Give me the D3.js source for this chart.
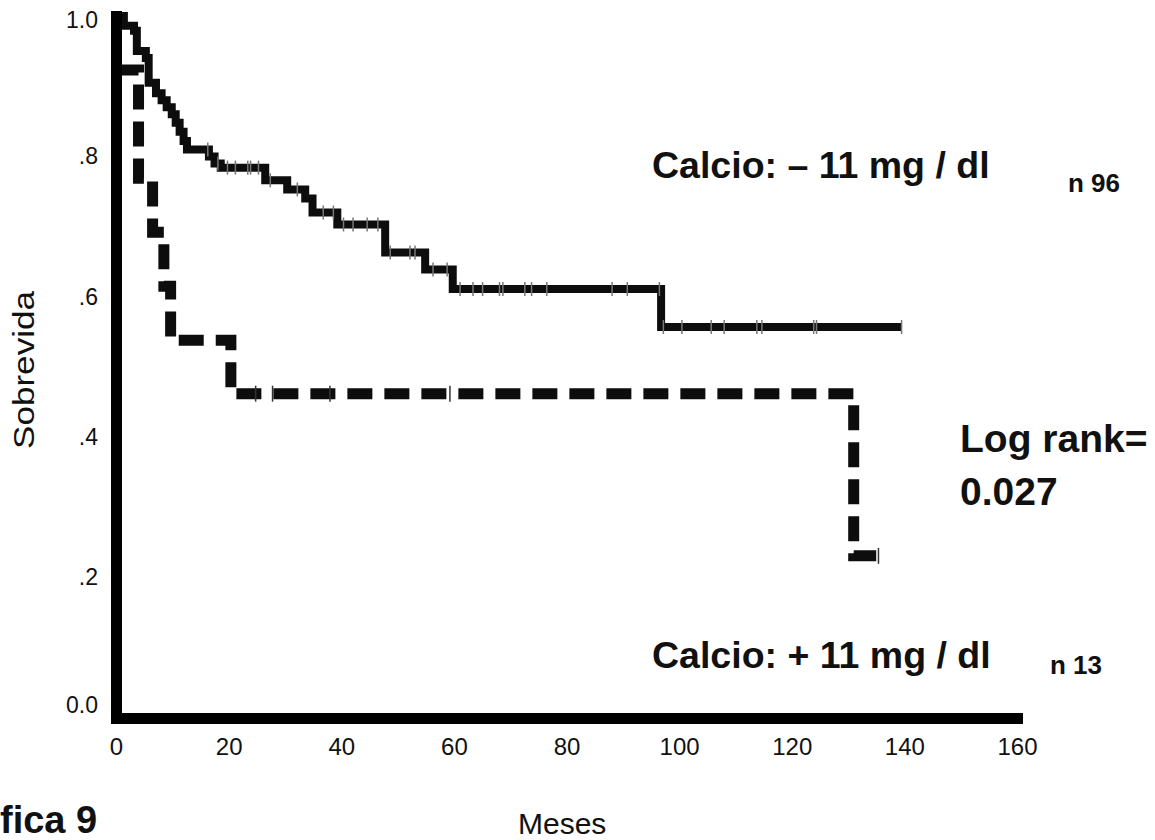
<!DOCTYPE html>
<html>
<head>
<meta charset="utf-8">
<script src="https://cdn.jsdelivr.net/npm/d3@7"></script>
<style>
    body { margin: 0; background: #fff; }
    svg { display: block; font-family: "Liberation Sans", Arial, sans-serif; }
</style>
</head>
<body>
<svg id="chart"></svg>
<script>
// Kaplan-Meier, calcio < 11 mg/dl (n 96)
let solidTimes = [0, 1.4, 3.2, 3.7, 5.3, 5.8, 7.1, 8.1, 9.0, 9.9, 10.6, 11.3, 12.0, 12.6, 16.5, 17.5, 18.6, 26.5, 30.4, 33.6, 34.9, 39.3, 47.8, 54.9, 59.8, 96.8, 139.5];
let solidSurv = [1.0, 0.986, 0.979, 0.95, 0.94, 0.905, 0.89, 0.88, 0.87, 0.86, 0.848, 0.835, 0.822, 0.81, 0.80, 0.79, 0.784, 0.766, 0.753, 0.74, 0.72, 0.703, 0.663, 0.639, 0.611, 0.557, 0.557];
let solidCensored = [16.3, 18.1, 19.8, 21.2, 23.4, 23.9, 25.3, 27.4, 32.2, 36.8, 38.6, 40.4, 42.1, 44.6, 46.5, 48.7, 52.2, 53.1, 56.3, 58.8, 61.1, 63.4, 65.1, 68.1, 68.7, 72.6, 73.8, 76.5, 88.1, 90.8, 96.5, 97.2, 100.5, 105.7, 108, 113.8, 114.7, 123.9, 124.4, 139.5];

// calcio > 11 mg/dl (n 13)
let dashTimes = [0, 4.0, 6.5, 8.5, 9.7, 20.4, 131, 135.4];
let dashSurv = [0.923, 0.769, 0.692, 0.615, 0.538, 0.462, 0.231, 0.231];
let dashCensored = [24.8, 27.8, 38.0, 59.3, 135.4];

let xTicks = [0, 20, 40, 60, 80, 100, 120, 140, 160];
let yTicks = [0, 0.2, 0.4, 0.6, 0.8, 1.0];
let yTickLabels = ["0.0", ".2", ".4", ".6", ".8", "1.0"];

let width = 1155,
    height = 840;

let x = d3.scaleLinear().domain([0, 160]).range([116, 1017]);
let y = d3.scaleLinear().domain([0, 1]).range([718, 16]);

let svg = d3.select('#chart')
    .attr('width', width)
    .attr('height', height);

svg.append('rect')
    .attr('width', width)
    .attr('height', height)
    .attr('fill', '#fff');

function toPoints(ts, ss) {
    return ts.map((t, i) => [t, ss[i]]);
}

// value of a step curve at time t
function survAt(ts, ss, t) {
    let v = ss[0];
    for (let i = 0; i < ts.length; i++) {
        if (ts[i] <= t) v = ss[i];
    }
    return v;
}

let line = d3.line()
    .curve(d3.curveStepAfter)
    .x(d => x(d[0]))
    .y(d => y(d[1]));

// solid curve
svg.append('path')
    .datum(toPoints(solidTimes, solidSurv))
    .attr('d', line)
    .attr('fill', 'none')
    .attr('stroke', '#0d0d0d')
    .attr('stroke-width', 8);

svg.append('g').selectAll('line')
    .data(solidCensored).enter()
    .append('line')
    .attr('x1', d => x(d))
    .attr('x2', d => x(d))
    .attr('y1', d => y(survAt(solidTimes, solidSurv, d)) - 7)
    .attr('y2', d => y(survAt(solidTimes, solidSurv, d)) + 7)
    .attr('stroke', '#777')
    .attr('stroke-width', 1.5);

// dashed curve
svg.append('path')
    .datum(toPoints(dashTimes, dashSurv))
    .attr('d', line)
    .attr('fill', 'none')
    .attr('stroke', '#0d0d0d')
    .attr('stroke-width', 11)
    .attr('stroke-dasharray', '25,12');

svg.append('g').selectAll('line')
    .data(dashCensored).enter()
    .append('line')
    .attr('x1', d => x(d))
    .attr('x2', d => x(d))
    .attr('y1', d => y(survAt(dashTimes, dashSurv, d)) - 8)
    .attr('y2', d => y(survAt(dashTimes, dashSurv, d)) + 8)
    .attr('stroke', '#333')
    .attr('stroke-width', 1.5);

// axes
let yAxis = d3.axisLeft(y)
    .tickValues(yTicks)
    .tickFormat((d, i) => yTickLabels[i])
    .tickSize(4)
    .tickSizeOuter(0)
    .tickPadding(14);

let gy = svg.append('g')
    .attr('transform', 'translate(' + x(0) + ',0)')
    .call(yAxis);

let xAxis = d3.axisBottom(x)
    .tickValues(xTicks)
    .tickSize(4)
    .tickSizeOuter(0)
    .tickPadding(16);

let gx = svg.append('g')
    .attr('transform', 'translate(0,' + y(0) + ')')
    .call(xAxis);

[gx, gy].forEach(g => {
    g.select('.domain')
        .attr('stroke', '#000')
        .attr('stroke-width', 11)
        .attr('stroke-linecap', 'square');
    g.selectAll('.tick line')
        .attr('stroke', '#000')
        .attr('stroke-width', 2);
    g.selectAll('.tick text')
        .attr('fill', '#111')
        .style('font-size', '23px')
        .style('font-family', '"Liberation Sans", Arial, sans-serif');
});

gx.selectAll('.tick text').style('font-size', '24px');

// nudge the end labels like the original
gy.selectAll('.tick text')
    .attr('dy', d => d === 0 ? '-0.25em' : (d === 1 ? '0.5em' : '0.32em'));

// texts
function label(txt, px, py, size, bold) {
    return svg.append('text')
        .attr('x', px)
        .attr('y', py)
        .style('font-size', size + 'px')
        .style('font-weight', bold ? 'bold' : 'normal')
        .attr('fill', '#111')
        .text(txt);
}

label('Calcio: \u2013 11 mg / dl', 652, 178, 37.5, true);
label('n 96', 1068, 192, 26, true);
label('Log rank=', 960, 452, 39, true);
label('0.027', 960, 505, 39, true);
label('Calcio: + 11 mg / dl', 652, 668, 37.5, true);
label('n 13', 1050, 674, 26, true);
label('fica 9', 0, 833, 38, true);
label('Meses', 518, 834, 30, false);

svg.append('text')
    .attr('transform', 'translate(34,370)rotate(-90)')
    .attr('text-anchor', 'middle')
    .attr('textLength', 158)
    .attr('lengthAdjust', 'spacingAndGlyphs')
    .style('font-size', '29px')
    .attr('fill', '#111')
    .text('Sobrevida');
</script>
</body>
</html>
